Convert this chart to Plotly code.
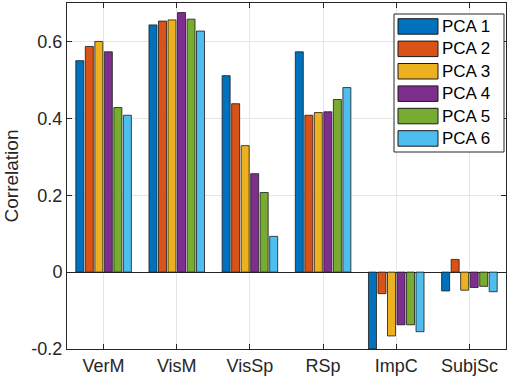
import plotly.graph_objects as go

categories = ["VerM", "VisM", "VisSp", "RSp", "ImpC", "SubjSc"]
series_names = ["PCA 1", "PCA 2", "PCA 3", "PCA 4", "PCA 5", "PCA 6"]
pca1 = [0.550, 0.643, 0.511, 0.573, -0.200, -0.049]
pca2 = [0.587, 0.653, 0.438, 0.408, -0.056, 0.033]
pca3 = [0.600, 0.656, 0.329, 0.415, -0.166, -0.047]
pca4 = [0.573, 0.675, 0.256, 0.417, -0.137, -0.040]
pca5 = [0.428, 0.658, 0.207, 0.449, -0.137, -0.037]
pca6 = [0.408, 0.627, 0.093, 0.480, -0.155, -0.051]
series_values = [pca1, pca2, pca3, pca4, pca5, pca6]
colors = ["#0072BD", "#D95319", "#EDB120", "#7E2F8E", "#77AC30", "#4DBEEE"]
y_ticks = [-0.2, 0, 0.2, 0.4, 0.6]
y_tick_labels = ["-0.2", "0", "0.2", "0.4", "0.6"]

W, H = 510, 383
ML, MR, MT, MB = 67, 4, 3, 34
PW, PH = W - ML - MR, H - MT - MB
FONT = "Liberation Sans, Arial, Helvetica, sans-serif"
TXT = "#262626"


def px_x(px):
    return (px - ML) / PW


def px_y(py):
    return (H - MB - py) / PH


fig = go.Figure()
for name, vals, c in zip(series_names, series_values, colors):
    fig.add_trace(go.Bar(x=categories, y=vals, name=name, marker_color=c,
                         marker_line_color="#1a1a1a", marker_line_width=0.8,
                         showlegend=False))

axis_common = dict(showline=True, linecolor=TXT, linewidth=1, mirror="ticks",
                   ticks="inside", ticklen=5, tickcolor=TXT,
                   showgrid=True, gridcolor="#e6e6e6", gridwidth=1,
                   automargin=False,
                   tickfont=dict(family=FONT, size=18, color=TXT))

# manual legend (MATLAB style, with large swatches)
shapes = [dict(type="rect", xref="paper", yref="paper",
               x0=px_x(394), x1=px_x(504), y0=px_y(152), y1=px_y(14),
               line=dict(color=TXT, width=1), fillcolor="white", layer="above")]
annotations = []
for i, (name, c) in enumerate(zip(series_names, colors)):
    top = 18.7 + 22.4 * i
    shapes.append(dict(type="rect", xref="paper", yref="paper",
                       x0=px_x(398), x1=px_x(438), y0=px_y(top + 15.5), y1=px_y(top),
                       line=dict(color="#1a1a1a", width=1), fillcolor=c, layer="above"))
    annotations.append(dict(xref="paper", yref="paper", x=px_x(440), y=px_y(top + 7.9),
                            xanchor="left", yanchor="middle", text=name, showarrow=False,
                            font=dict(family=FONT, size=17, color="#000000")))

fig.update_layout(
    width=W, height=H,
    margin=dict(l=ML, r=MR, t=MT, b=MB),
    paper_bgcolor="white", plot_bgcolor="white",
    barmode="group", bargap=0.22, bargroupgap=0.16,
    font=dict(family=FONT, size=18, color=TXT),
    xaxis=dict(**axis_common, range=[-0.5, 5.5]),
    yaxis=dict(**axis_common, range=[-0.2, 0.7], tickvals=y_ticks, ticktext=y_tick_labels,
               zeroline=True, zerolinecolor=TXT, zerolinewidth=1,
               title=dict(text="Correlation", font=dict(family=FONT, size=19, color=TXT), standoff=7)),
    shapes=shapes,
    annotations=annotations,
    showlegend=False,
)
fig.write_html("out.html", config={"displayModeBar": False},
               post_script="document.body.style.margin='0px';")
